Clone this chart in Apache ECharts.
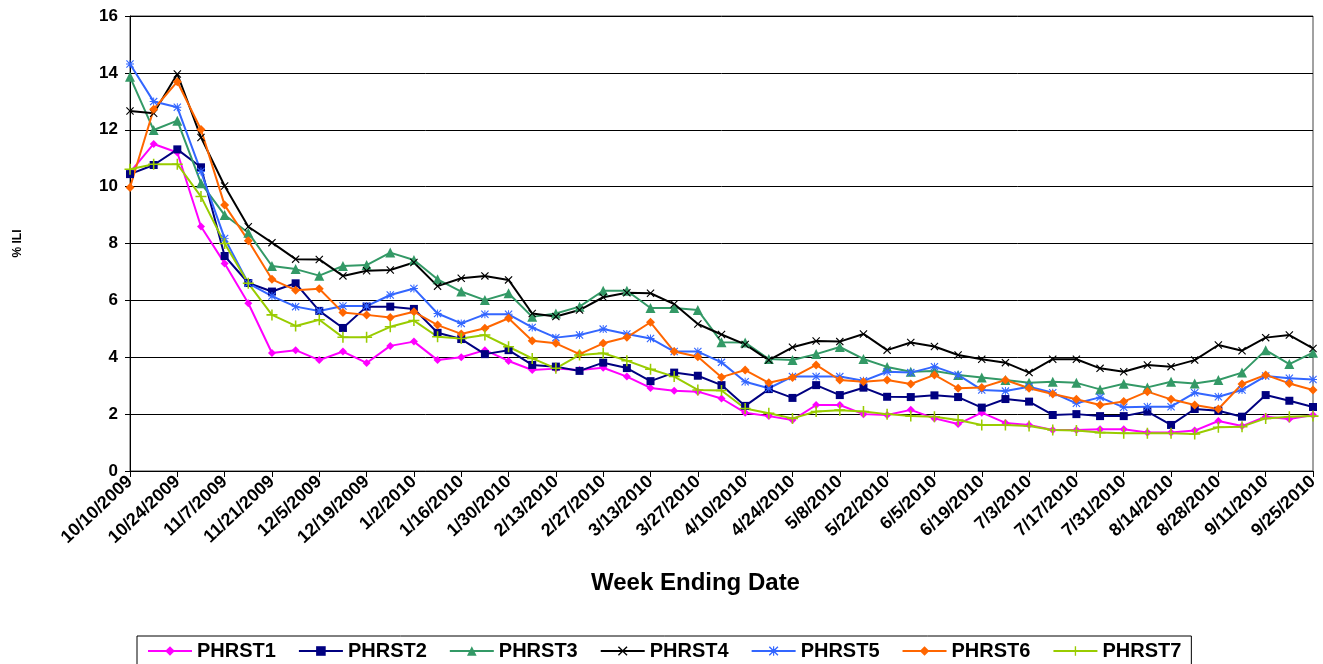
<!DOCTYPE html>
<html>
<head>
<meta charset="utf-8">
<script src="https://cdn.jsdelivr.net/npm/echarts@6/dist/echarts.min.js"></script>
<style>
  html, body { margin: 0; padding: 0; background: #fff; }
  #chart { width: 1323px; height: 664px; }
</style>
</head>
<body>
<div id="chart"></div>
<script>
// week ending dates
const weeks = ['10/10/2009','10/17/2009','10/24/2009','10/31/2009','11/7/2009','11/14/2009','11/21/2009','11/28/2009',
  '12/5/2009','12/12/2009','12/19/2009','12/26/2009','1/2/2010','1/9/2010','1/16/2010','1/23/2010','1/30/2010',
  '2/6/2010','2/13/2010','2/20/2010','2/27/2010','3/6/2010','3/13/2010','3/20/2010','3/27/2010','4/3/2010',
  '4/10/2010','4/17/2010','4/24/2010','5/1/2010','5/8/2010','5/15/2010','5/22/2010','5/29/2010','6/5/2010',
  '6/12/2010','6/19/2010','6/26/2010','7/3/2010','7/10/2010','7/17/2010','7/24/2010','7/31/2010','8/7/2010',
  '8/14/2010','8/21/2010','8/28/2010','9/4/2010','9/11/2010','9/18/2010','9/25/2010']

const phrst1 = [10.5, 11.5, 11.2, 8.6, 7.3, 5.9, 4.15, 4.25, 3.9, 4.2,
  3.8, 4.4, 4.55, 3.9, 4.0, 4.25, 3.87, 3.55, 3.6, 3.55,
  3.63, 3.32, 2.92, 2.82, 2.79, 2.55, 2.05, 1.93, 1.79, 2.32,
  2.32, 2.0, 1.97, 2.15, 1.85, 1.65, 2.05, 1.69, 1.62, 1.44,
  1.44, 1.47, 1.47, 1.35, 1.35, 1.42, 1.76, 1.58, 1.91, 1.83, 1.97]
const phrst2 = [10.44, 10.76, 11.31, 10.68, 7.56, 6.61, 6.31, 6.6, 5.63, 5.03,
  5.78, 5.78, 5.7, 4.86, 4.64, 4.11, 4.25, 3.73, 3.67, 3.52,
  3.81, 3.62, 3.16, 3.46, 3.35, 3.02, 2.29, 2.88, 2.57, 3.02,
  2.67, 2.93, 2.61, 2.6, 2.66, 2.6, 2.23, 2.53, 2.44, 1.97,
  2.0, 1.93, 1.93, 2.09, 1.62, 2.18, 2.12, 1.91, 2.67, 2.47, 2.25]
const phrst3 = [13.86, 11.99, 12.32, 10.12, 9.0, 8.38, 7.21, 7.1, 6.87, 7.21,
  7.24, 7.68, 7.42, 6.74, 6.31, 6.01, 6.25, 5.42, 5.54, 5.78,
  6.34, 6.34, 5.73, 5.73, 5.66, 4.53, 4.52, 3.94, 3.9, 4.11,
  4.36, 3.94, 3.66, 3.49, 3.52, 3.38, 3.29, 3.2, 3.1, 3.14,
  3.1, 2.87, 3.07, 2.94, 3.14, 3.08, 3.2, 3.46, 4.25, 3.76, 4.16]
const phrst4 = [12.66, 12.58, 13.96, 11.73, 10.02, 8.59, 8.03, 7.45, 7.44, 6.86,
  7.04, 7.07, 7.33, 6.5, 6.78, 6.86, 6.72, 5.54, 5.43, 5.66,
  6.11, 6.27, 6.25, 5.87, 5.17, 4.8, 4.45, 3.9, 4.35, 4.57,
  4.55, 4.82, 4.25, 4.52, 4.38, 4.08, 3.93, 3.81, 3.46, 3.93,
  3.93, 3.61, 3.49, 3.73, 3.67, 3.9, 4.43, 4.23, 4.69, 4.78, 4.31]
const phrst5 = [14.31, 12.99, 12.79, 10.53, 8.18, 6.6, 6.15, 5.78, 5.63, 5.8,
  5.8, 6.19, 6.42, 5.54, 5.19, 5.51, 5.51, 5.05, 4.69, 4.78,
  4.99, 4.82, 4.66, 4.2, 4.2, 3.82, 3.14, 2.91, 3.32, 3.32,
  3.32, 3.17, 3.49, 3.46, 3.67, 3.38, 2.85, 2.81, 2.96, 2.75,
  2.38, 2.59, 2.24, 2.26, 2.26, 2.75, 2.61, 2.85, 3.34, 3.26, 3.22]
const phrst6 = [9.97, 12.72, 13.69, 12.01, 9.35, 8.1, 6.74, 6.36, 6.41, 5.57,
  5.49, 5.4, 5.6, 5.13, 4.82, 5.02, 5.37, 4.58, 4.49, 4.11,
  4.49, 4.7, 5.23, 4.2, 4.02, 3.3, 3.55, 3.1, 3.29, 3.73,
  3.2, 3.14, 3.2, 3.06, 3.38, 2.91, 2.94, 3.2, 2.91, 2.71,
  2.52, 2.32, 2.44, 2.79, 2.52, 2.32, 2.18, 3.06, 3.38, 3.08, 2.85]
const phrst7 = [10.61, 10.79, 10.79, 9.65, 8.0, 6.6, 5.49, 5.1, 5.32, 4.7,
  4.7, 5.07, 5.29, 4.72, 4.66, 4.78, 4.37, 3.96, 3.61, 4.08,
  4.14, 3.88, 3.58, 3.32, 2.85, 2.83, 2.2, 2.03, 1.85, 2.09,
  2.14, 2.09, 2.0, 1.93, 1.91, 1.79, 1.62, 1.62, 1.58, 1.44,
  1.42, 1.35, 1.33, 1.33, 1.33, 1.3, 1.54, 1.56, 1.85, 1.91, 1.93]

// marker shapes like the excel ones
const xMark = 'path://M1,0L5,4L9,0L10,1L6,5L10,9L9,10L5,6L1,10L0,9L4,5L0,1Z'
const plusMark = 'path://M4.3,0H5.7V4.3H10V5.7H5.7V10H4.3V5.7H0V4.3H4.3Z'
const starMark = 'path://M4.4,0H5.6V4.4H10V5.6H5.6V10H4.4V5.6H0V4.4H4.4Z M1,0L5,4L9,0L10,1L6,5L10,9L9,10L5,6L1,10L0,9L4,5L0,1Z'

const makeSeries = (name, data, color, symbol, size) => {
  return {
    name: name,
    type: 'line',
    data: data,
    symbol: symbol,
    symbolSize: size,
    showAllSymbol: true,
    lineStyle: { color: color, width: 2 },
    itemStyle: { color: color },
    emphasis: { disabled: true }
  }
}

const chart = echarts.init(document.getElementById('chart'))

const option = {
  animation: false,
  textStyle: { fontFamily: 'Liberation Sans, Arial, sans-serif', color: '#000' },
  grid: {
    left: 130,
    right: 10,
    top: 16,
    bottom: 193,
    show: true,
    borderColor: '#444',
    borderWidth: 1
  },
  legend: {
    left: 137,
    top: 636,
    padding: [5, 10],
    itemGap: 22,
    itemWidth: 44,
    itemHeight: 12,
    borderColor: '#000',
    borderWidth: 1,
    textStyle: { fontSize: 20, fontWeight: 'bold', color: '#000' }
  },
  xAxis: {
    type: 'category',
    data: weeks,
    boundaryGap: false,
    name: 'Week Ending Date',
    nameLocation: 'middle',
    nameGap: 100,
    nameTextStyle: { fontSize: 24, fontWeight: 'bold', color: '#000', padding: [0, 52, 0, 0] },
    axisLine: { lineStyle: { color: '#000', width: 1 } },
    axisTick: { interval: 1, length: 6, lineStyle: { color: '#000' } },
    axisLabel: { interval: 1, rotate: 43, fontSize: 18, fontWeight: 'bold', color: '#000', margin: 8 },
    splitLine: { show: false }
  },
  yAxis: {
    type: 'value',
    min: 0,
    max: 16,
    interval: 2,
    name: '% ILI',
    nameLocation: 'middle',
    nameGap: 106,
    nameTextStyle: { fontSize: 12, fontWeight: 'bold', color: '#000' },
    axisLine: { show: true, lineStyle: { color: '#000', width: 1 } },
    axisTick: { show: true, length: 5, lineStyle: { color: '#000' } },
    axisLabel: { fontSize: 17, fontWeight: 'bold', color: '#000', margin: 12 },
    splitLine: { lineStyle: { color: '#000', width: 1 } }
  },
  series: [
    makeSeries('PHRST1', phrst1, '#FF00FF', 'diamond', 8),
    makeSeries('PHRST2', phrst2, '#000080', 'rect', 8),
    makeSeries('PHRST3', phrst3, '#339966', 'triangle', 10),
    makeSeries('PHRST4', phrst4, '#000000', xMark, 8),
    makeSeries('PHRST5', phrst5, '#3366FF', starMark, 8),
    makeSeries('PHRST6', phrst6, '#FF6600', 'diamond', 9),
    makeSeries('PHRST7', phrst7, '#99CC00', plusMark, 11)
  ]
}

chart.setOption(option)
</script>
</body>
</html>
